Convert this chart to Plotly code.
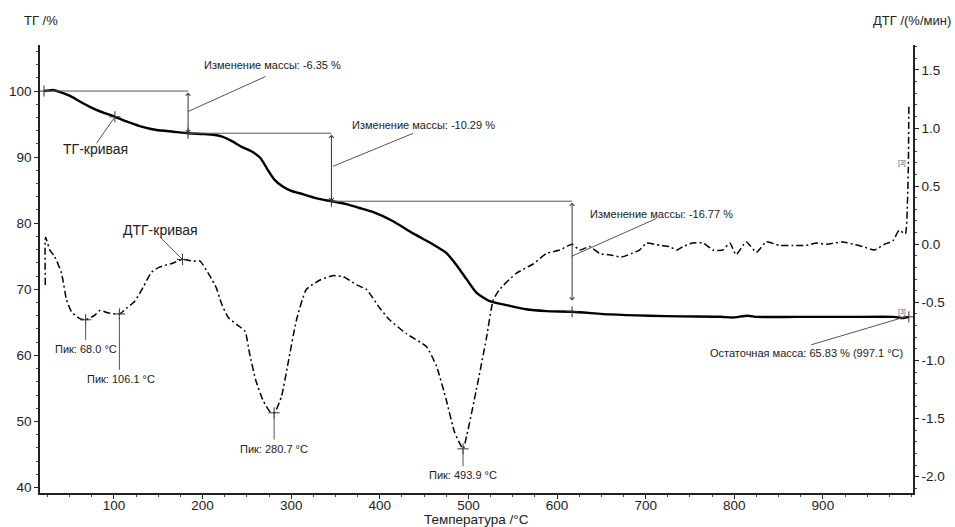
import plotly.graph_objects as go

# ---------------- data ----------------
tg_temp = [21, 24, 31, 41, 52, 65, 80, 101, 114, 129, 148, 167, 183.6, 200, 212, 222, 232, 245, 255,
           265, 273, 281, 290, 300, 313, 328, 345.4, 362, 377, 392, 415, 437, 460, 475, 486, 498,
           509, 524, 543, 565, 588, 617, 660, 704, 740, 785, 798, 815, 826, 870, 930, 980, 990, 997]
tg_val = [100.0, 100.05, 100.15, 99.75, 99.15, 98.15, 97.15, 96.1, 95.4, 94.7, 94.1, 93.85, 93.62, 93.5,
          93.38, 93.1, 92.5, 91.5, 90.9, 89.9, 88.2, 86.6, 85.6, 84.9, 84.4, 83.8, 83.33, 82.9, 82.3,
          81.7, 80.3, 78.5, 76.8, 75.5, 73.75, 71.5, 69.5, 68.2, 67.6, 66.97, 66.7, 66.59, 66.2, 66.0,
          65.9, 65.85, 65.72, 66.0, 65.82, 65.82, 65.82, 65.82, 65.65, 65.83]

dtg_temp = [22.5, 22.8, 27.6, 33.3, 40.8, 46.5, 52, 61.5, 68, 78.4, 84, 93.4, 106, 114.2, 123.5, 132.9,
            142.4, 151.7, 165, 177.3, 189.3, 196.8, 208, 215.7, 221.3, 229, 242, 248, 253, 260, 268,
            276, 281, 289, 296.5, 306, 317, 332, 347, 359, 374, 385, 400, 411, 430, 452.5, 464, 475,
            484.5, 494, 498, 509, 520, 528, 535, 554, 573, 588, 603, 617, 625.5, 637, 648, 659, 672.5,
            684, 693, 701, 716, 727, 735, 742, 753, 765, 776, 787, 795, 802, 813.5, 825, 836, 851, 866,
            881, 892.5, 904, 922.5, 934, 945, 958, 969.5, 979, 986, 993, 995.5, 996.5, 997]
dtg_val = [-0.35, 0.06, -0.05, -0.11, -0.25, -0.48, -0.58, -0.64, -0.65, -0.61, -0.57, -0.59, -0.60,
           -0.55, -0.49, -0.37, -0.24, -0.195, -0.166, -0.131, -0.146, -0.143, -0.27, -0.38, -0.51,
           -0.63, -0.71, -0.75, -0.94, -1.17, -1.34, -1.44, -1.45, -1.31, -1.02, -0.65, -0.39, -0.31,
           -0.27, -0.28, -0.35, -0.39, -0.55, -0.65, -0.77, -0.88, -1.05, -1.34, -1.62, -1.76, -1.65,
           -1.25, -0.82, -0.48, -0.39, -0.25, -0.17, -0.08, -0.05, 0.0, -0.05, -0.02, -0.08, -0.09,
           -0.11, -0.08, -0.05, 0.01, -0.01, -0.02, -0.05, -0.02, 0.01, 0.01, -0.05, -0.05, 0.01,
           -0.09, 0.02, -0.07, 0.02, -0.01, -0.01, -0.01, 0.01, 0.0, 0.02, 0.0, -0.02, -0.05, 0.0,
           0.03, 0.12, 0.09, 0.38, 0.69, 1.19]

# mass-change steps: temperature of each step boundary and TG level
step_temps = [21, 183.6, 345.4, 617]
step_levels = [100.0, 93.62, 83.33, 66.59]
step_labels = ["Изменение массы: -6.35 %", "Изменение массы: -10.29 %", "Изменение массы: -16.77 %"]

# DTG peaks
peak_temps = [68.0, 106.1, 280.7, 493.9]
peak_vals = [-0.65, -0.60, -1.45, -1.76]
peak_labels = ["Пик: 68.0 °C", "Пик: 106.1 °C", "Пик: 280.7 °C", "Пик: 493.9 °C"]

residual_label = "Остаточная масса: 65.83 % (997.1 °C)"

x_ticks = [100, 200, 300, 400, 500, 600, 700, 800, 900]
y_ticks = [40, 50, 60, 70, 80, 90, 100]
y2_ticks = [1.5, 1.0, 0.5, 0.0, -0.5, -1.0, -1.5, -2.0]
y2_ticktext = ["1.5", "1.0", "0.5", "0.0", "-0.5", "-1.0", "-1.5", "-2.0"]

FONT = "Liberation Sans, Arial, sans-serif"
TXT = "#222222"
GREY = "#555555"

W, H = 955, 527
ML, MR, MT, MB = 40, 42, 45, 34
plot_w = W - ML - MR
plot_h = H - MT - MB

fig = go.Figure()

fig.add_trace(go.Scatter(x=tg_temp, y=tg_val, mode="lines", yaxis="y",
                         line=dict(color="black", width=2.4, shape="spline", smoothing=0.6),
                         hoverinfo="skip", showlegend=False))
fig.add_trace(go.Scatter(x=dtg_temp, y=dtg_val, mode="lines", yaxis="y2",
                         line=dict(color="black", width=1.5, dash="7px,3px,2px,3px",
                                   shape="spline", smoothing=0.5),
                         hoverinfo="skip", showlegend=False))

# cross markers
fig.add_trace(go.Scatter(x=[step_temps[0], step_temps[1], step_temps[2], step_temps[3], 101, 997],
                         y=[step_levels[0], step_levels[1], step_levels[2], step_levels[3], 96.1, 65.83],
                         mode="markers", yaxis="y",
                         marker=dict(symbol="cross-thin", size=8, line=dict(color="#333", width=1)),
                         hoverinfo="skip", showlegend=False))
fig.add_trace(go.Scatter(x=peak_temps + [177.3], y=peak_vals + [-0.131],
                         mode="markers", yaxis="y2",
                         marker=dict(symbol="cross-thin", size=8, line=dict(color="#333", width=1)),
                         hoverinfo="skip", showlegend=False))

shapes = []
annotations = []

# horizontal reference lines and double arrows
arrow_ends = [93.62, 83.33, 68.3]
for i in range(3):
    shapes.append(dict(type="line", xref="x", yref="y", x0=step_temps[i], x1=step_temps[i + 1],
                       y0=step_levels[i], y1=step_levels[i], line=dict(color=GREY, width=1)))
    annotations.append(dict(x=step_temps[i + 1], y=arrow_ends[i], ax=step_temps[i + 1], ay=step_levels[i],
                            xref="x", yref="y", axref="x", ayref="y", text="", showarrow=True,
                            arrowhead=4, arrowside="end+start", arrowsize=0.9, arrowwidth=1,
                            arrowcolor="#333", standoff=0, startstandoff=0))

# leader lines for mass-change labels (from arrow to text)
leader_from = [(183.6, 96.9), (347, 88.6), (616.5, 75.0)]
leader_to = [(271, 102.2), (437.5, 93.6), (712, 80.7)]
text_pos = [(198.8, 103.9), (366, 94.9), (634.5, 81.45)]
for i in range(3):
    shapes.append(dict(type="line", xref="x", yref="y", x0=leader_from[i][0], y0=leader_from[i][1],
                       x1=leader_to[i][0], y1=leader_to[i][1], line=dict(color=GREY, width=1)))
    annotations.append(dict(x=text_pos[i][0], y=text_pos[i][1], xref="x", yref="y", text=step_labels[i],
                            showarrow=False, xanchor="left", yanchor="middle",
                            font=dict(family=FONT, size=11, color=TXT)))

# residual mass
shapes.append(dict(type="line", xref="x", yref="y", x0=886.8, y0=61.6, x1=994, y1=65.87,
                   line=dict(color=GREY, width=1)))
annotations.append(dict(x=993, y=60.3, xref="x", yref="y", text=residual_label, showarrow=False,
                        xanchor="right", yanchor="middle", font=dict(family=FONT, size=11, color=TXT)))

# peak labels
line_ends = [-0.823, -1.08, -1.68, -1.91]
label_x = [68.0, 108.0, 281.0, 494.0]
for i in range(4):
    shapes.append(dict(type="line", xref="x", yref="y2", x0=peak_temps[i], x1=peak_temps[i],
                       y0=peak_vals[i], y1=line_ends[i], line=dict(color=GREY, width=1)))
    annotations.append(dict(x=label_x[i], y=line_ends[i], xref="x", yref="y2", text=peak_labels[i],
                            showarrow=False, xanchor="center", yanchor="top", yshift=-1,
                            font=dict(family=FONT, size=11, color=TXT)))

# curve name labels
shapes.append(dict(type="line", xref="x", yref="y", x0=101, y0=96.1, x1=80.3, y1=92.1,
                   line=dict(color=GREY, width=1)))
annotations.append(dict(x=79, y=91.25, xref="x", yref="y", text="ТГ-кривая", showarrow=False,
                        xanchor="center", yanchor="middle", font=dict(family=FONT, size=14, color=TXT)))
shapes.append(dict(type="line", xref="x", yref="y2", x0=177.3, y0=-0.131, x1=151.7, y1=0.063,
                   line=dict(color=GREY, width=1)))
annotations.append(dict(x=152.7, y=0.12, xref="x", yref="y2", text="ДТГ-кривая", showarrow=False,
                        xanchor="center", yanchor="middle", font=dict(family=FONT, size=14, color=TXT)))

# [3] markers
annotations.append(dict(x=989.6, y=0.695, xref="x", yref="y2", text="[3]", showarrow=False,
                        xanchor="center", yanchor="middle", font=dict(family=FONT, size=7, color="#2f5f9a")))
annotations.append(dict(x=989.6, y=66.5, xref="x", yref="y", text="[3]", showarrow=False,
                        xanchor="center", yanchor="middle", font=dict(family=FONT, size=7, color="#2f5f9a")))

# axis titles
annotations.append(dict(x=(22 - ML) / plot_w, y=1 + (MT - 21) / plot_h, xref="paper", yref="paper",
                        text="ТГ /%", showarrow=False, xanchor="left", yanchor="middle",
                        font=dict(family=FONT, size=13, color=TXT)))
annotations.append(dict(x=(953 - ML) / plot_w, y=1 + (MT - 21) / plot_h, xref="paper", yref="paper",
                        text="ДТГ /(%/мин)", showarrow=False, xanchor="right", yanchor="middle",
                        font=dict(family=FONT, size=13, color=TXT)))
annotations.append(dict(x=0.5, y=-(519 - (MT + plot_h)) / plot_h, xref="paper", yref="paper",
                        text="Температура /°C", showarrow=False, xanchor="center", yanchor="middle",
                        font=dict(family=FONT, size=13.5, color=TXT)))

fig.update_layout(
    width=W, height=H,
    margin=dict(l=ML, r=MR, t=MT, b=MB, autoexpand=False),
    paper_bgcolor="white", plot_bgcolor="white",
    font=dict(family=FONT, size=13.5, color=TXT),
    xaxis=dict(range=[16.5, 1001.7], tickvals=x_ticks, ticks="outside", ticklen=4, tickwidth=1,
               tickcolor="#222", showline=True, linecolor="#222", linewidth=1.5, showgrid=False,
               zeroline=False, tickfont=dict(size=13.5), automargin=False, ticklabelstandoff=-5,
               minor=dict(dtick=25, tick0=0, ticks="outside", ticklen=2.5, tickcolor="#444", showgrid=False)),
    yaxis=dict(range=[39.17, 106.97], tickvals=y_ticks, ticks="outside", ticklen=4, tickwidth=1,
               tickcolor="#222", showline=True, linecolor="#222", linewidth=1.5, showgrid=False,
               zeroline=False, tickfont=dict(size=13.5), automargin=False,
               minor=dict(dtick=2, tick0=0, ticks="outside", ticklen=2.5, tickcolor="#444", showgrid=False)),
    yaxis2=dict(range=[-2.14, 1.714], overlaying="y", side="right", tickvals=y2_ticks, ticktext=y2_ticktext,
                ticks="outside", ticklen=4, tickwidth=1, tickcolor="#222", showline=True, linecolor="#222",
                linewidth=1.5, showgrid=False, zeroline=False, tickfont=dict(size=13.5), automargin=False,
                minor=dict(dtick=0.1, tick0=0, ticks="outside", ticklen=2.5, tickcolor="#444", showgrid=False)),
    shapes=shapes,
    annotations=annotations,
)

fig.write_html("out.html")
